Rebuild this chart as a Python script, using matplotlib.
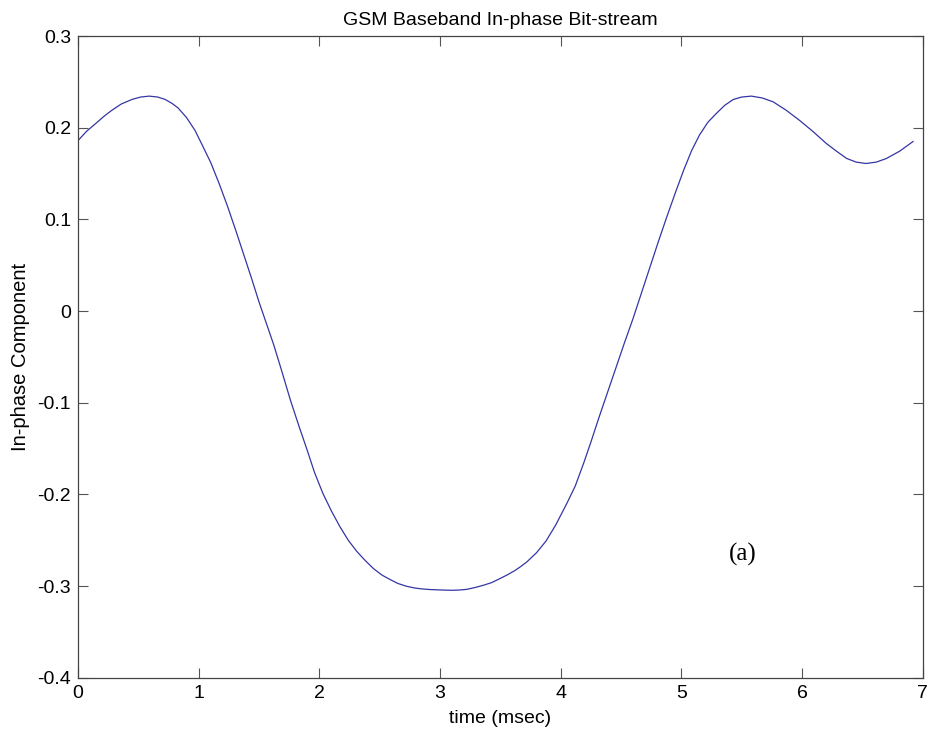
import matplotlib
matplotlib.use("Agg")
import matplotlib.pyplot as plt

# значения (время в мс, синфазная составляющая)
t = [0.00, 0.07, 0.15, 0.22, 0.28, 0.36, 0.45, 0.52, 0.59, 0.66,
     0.72, 0.78, 0.83, 0.90, 0.97, 1.03, 1.10, 1.17, 1.24, 1.31,
     1.38, 1.44, 1.50, 1.56, 1.62, 1.69, 1.76, 1.83, 1.90, 1.96,
     2.03, 2.10, 2.17, 2.24, 2.31, 2.38, 2.45, 2.52, 2.59, 2.65,
     2.72, 2.79, 2.85, 2.92, 2.98, 3.04, 3.10, 3.16, 3.22, 3.29,
     3.36, 3.43, 3.50, 3.56, 3.62, 3.67, 3.72, 3.80, 3.88, 3.96,
     4.05, 4.12, 4.19, 4.25, 4.32, 4.39, 4.46, 4.53, 4.60, 4.67,
     4.74, 4.81, 4.88, 4.95, 5.02, 5.085, 5.15, 5.22, 5.29, 5.36,
     5.43, 5.50, 5.58, 5.67, 5.76, 5.87, 5.98, 6.09, 6.20, 6.285,
     6.37, 6.45, 6.53, 6.615, 6.70, 6.81, 6.92]
i_comp = [0.186, 0.196, 0.205, 0.213, 0.219, 0.226, 0.231, 0.2335, 0.2345, 0.2335,
          0.231, 0.2265, 0.2215, 0.211, 0.197, 0.181, 0.162, 0.139, 0.114, 0.087,
          0.059, 0.035, 0.010, -0.013, -0.036, -0.066, -0.097, -0.125, -0.152, -0.176,
          -0.199, -0.218, -0.235, -0.250, -0.262, -0.272, -0.281, -0.288, -0.293, -0.297,
          -0.300, -0.302, -0.303, -0.3037, -0.304, -0.3043, -0.3045, -0.3042, -0.3035, -0.3015,
          -0.299, -0.296, -0.2915, -0.2875, -0.283, -0.2785, -0.2735, -0.2635, -0.2505, -0.233,
          -0.210, -0.191, -0.166, -0.143, -0.115, -0.088, -0.061, -0.034, -0.008, 0.020,
          0.048, 0.076, 0.103, 0.129, 0.154, 0.175, 0.192, 0.206, 0.2156, 0.2245,
          0.2308, 0.2335, 0.2345, 0.2325, 0.2283, 0.219, 0.208, 0.196, 0.183, 0.1745,
          0.1665, 0.1625, 0.161, 0.1625, 0.1665, 0.1745, 0.185]

xticks = [0, 1, 2, 3, 4, 5, 6, 7]
yticks = [-0.4, -0.3, -0.2, -0.1, 0, 0.1, 0.2, 0.3]
ytick_labels = ["-0.4", "-0.3", "-0.2", "-0.1", "0", "0.1", "0.2", "0.3"]

plt.rcParams['font.family'] = ['Liberation Sans', 'DejaVu Sans']

fig = plt.figure(figsize=(9.32, 7.36), dpi=100)
ax = fig.add_axes([0.0837, 0.079, 0.9063, 0.872])

ax.plot(t, i_comp, color='#3535a5', linewidth=0.9)

ax.set_xlim(0, 7)
ax.set_ylim(-0.4, 0.3)
ax.set_xticks(xticks)
ax.set_yticks(yticks)
ax.set_yticklabels(ytick_labels)

ax.tick_params(direction='in', length=7, width=0.8, top=True, right=True,
               labelsize=14, color='#555555', pad=5)
for s in ax.spines.values():
    s.set_color('#444444')
    s.set_linewidth(0.9)

ax.set_title("GSM Baseband In-phase Bit-stream", fontsize=14, pad=8)
ax.set_xlabel("time (msec)", fontsize=14, labelpad=6)
ax.set_ylabel("In-phase Component", fontsize=14.5, labelpad=5)

ax.text(5.51, -0.265, "(a)", family=['Liberation Serif', 'DejaVu Serif'],
        fontsize=18, ha='center', va='center')

fig.savefig("out.png", dpi=100)
